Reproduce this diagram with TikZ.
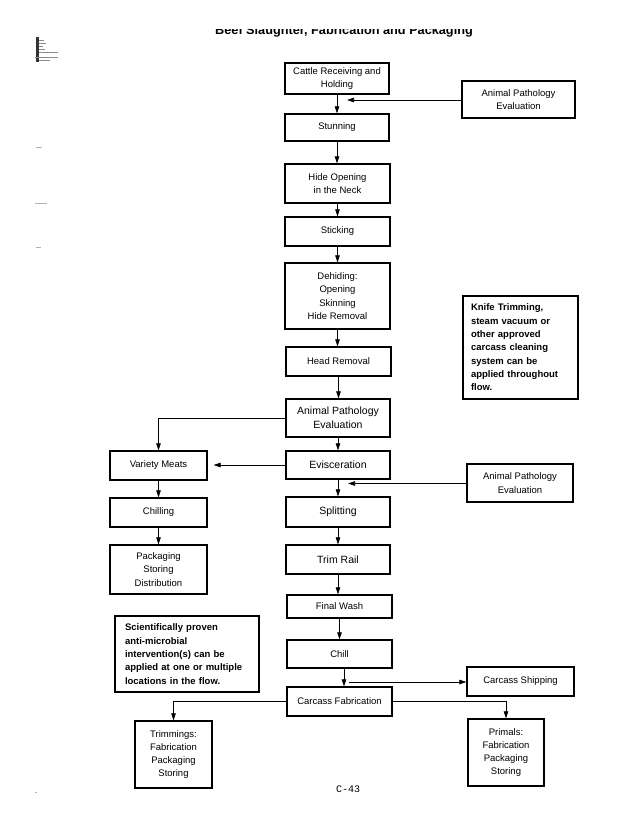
\documentclass[tikz,border=0pt]{standalone}
\usepackage{fontspec}
\setmainfont{Liberation Sans}
\setmonofont{Liberation Mono}
\usetikzlibrary{arrows.meta}
\begin{document}
\begin{tikzpicture}[x=1pt,y=-1pt,
 box/.style={draw, line width=1.3pt, inner sep=0pt, align=center, font=\fontsize{9.5}{13.3}\selectfont},
 note/.style={draw, line width=1.3pt, align=left, inner ysep=0pt, font=\bfseries\fontsize{9.5}{13.3}\selectfont},
 arr/.style={line width=0.7pt, -{Triangle[length=7pt,width=4.5pt]}},
 conn/.style={line width=0.7pt}]
\useasboundingbox (0,0) rectangle (638,826);
% title (cut off at top edge of scan)
\begin{scope}
\clip (0,30) rectangle (638,45);
\node[anchor=base, inner sep=0pt, font=\bfseries\fontsize{12.7}{14}\selectfont] (title) at (344,35) {Beef Slaughter, Fabrication and Packaging};
\end{scope}
% scan marks at left edge
\fill[black!80] (35.5,37) rectangle (38.5,62);
\draw[black!45, line width=0.5pt] (39,40) -- (44,40) (39,43) -- (46,43) (39,46) -- (43,46) (39,49) -- (45,49) (39,52) -- (58,52) (35,57) -- (58,57) (39,60) -- (50,60);
\draw[black!30, line width=0.6pt] (36,147) -- (42,147) (35,203) -- (47,203) (36,247) -- (41,247) (35,792) -- (37,792);
% main column
\node[box, minimum width=104pt, minimum height=31pt] (cattle) at (337,78.5) {Cattle Receiving and\\Holding};
\node[box, minimum width=113pt, minimum height=37pt, line width=1.1pt] (apeTop) at (518.5,99.5) {Animal Pathology\\Evaluation};
\node[box, minimum width=104pt, minimum height=27pt] (stun) at (337,127.5) {Stunning};
\node[box, minimum width=105pt, minimum height=39pt] (hide) at (337.5,183.5) {Hide Opening\\in the Neck};
\node[box, minimum width=105pt, minimum height=29pt] (stick) at (337.5,231.5) {Sticking};
\node[box, minimum width=105pt, minimum height=66pt] (dehide) at (337.5,296) {Dehiding:\\Opening\\Skinning\\Hide Removal};
\node[box, minimum width=105pt, minimum height=29pt] (head) at (338.5,361.5) {Head Removal};
\node[box, minimum width=104pt, minimum height=38pt, font=\fontsize{10.5}{14}\selectfont] (apeMid) at (338,418) {Animal Pathology\\Evaluation};
\node[box, minimum width=104pt, minimum height=28pt, font=\fontsize{10.5}{14}\selectfont] (evis) at (338,465) {Evisceration};
\node[box, minimum width=104pt, minimum height=30pt, font=\fontsize{10.5}{14}\selectfont] (split) at (338,512) {Splitting};
\node[box, minimum width=104pt, minimum height=29pt, font=\fontsize{10.5}{14}\selectfont] (trim) at (338,559.5) {Trim Rail};
\node[box, minimum width=105pt, minimum height=23pt] (wash) at (339.5,606.5) {Final Wash};
\node[box, minimum width=105pt, minimum height=28pt] (chill) at (339.5,654) {Chill};
\node[box, minimum width=105pt, minimum height=29pt] (cf) at (339.5,701.5) {Carcass Fabrication};
% notes
\node[note, text width=99pt, inner xsep=8pt, minimum height=103pt] (knife) at (520.5,347.5) {Knife Trimming,\\steam vacuum or\\other approved\\carcass cleaning\\system can be\\applied throughout\\flow.};
\node[note, text width=124pt, inner xsep=10pt, minimum height=76pt] (sci) at (187,654) {Scientifically proven\\anti-microbial\\intervention(s) can be\\applied at one or multiple\\locations in the flow.};
% left branch
\node[box, minimum width=97pt, minimum height=29pt] (vm) at (158.5,465.5) {Variety Meats};
\node[box, minimum width=97pt, minimum height=29pt] (chilling) at (158.5,512.5) {Chilling};
\node[box, minimum width=97pt, minimum height=49pt] (pack) at (158.5,569.5) {Packaging\\Storing\\Distribution};
% right side
\node[box, minimum width=106pt, minimum height=38pt, line width=1.1pt] (apeBot) at (520,483) {Animal Pathology\\Evaluation};
\node[box, minimum width=107pt, minimum height=29pt] (ship) at (520.5,681.5) {Carcass Shipping};
% bottom
\node[box, minimum width=77pt, minimum height=67pt] (trimmings) at (173.5,754.5) {Trimmings:\\Fabrication\\Packaging\\Storing};
\node[box, minimum width=76pt, minimum height=67pt] (primals) at (506,752.5) {Primals:\\Fabrication\\Packaging\\Storing};
\node[anchor=base, inner sep=0pt, font=\ttfamily\fontsize{10}{12}\selectfont] (page) at (348,792) {C-43};
% connectors main chain
\draw[arr] (cattle.south) -- (cattle.south |- stun.north);
\draw[arr] (stun.south) -- (stun.south |- hide.north);
\draw[arr] (hide.south) -- (hide.south |- stick.north);
\draw[arr] (stick.south) -- (stick.south |- dehide.north);
\draw[arr] (dehide.south) -- (dehide.south |- head.north);
\draw[arr] (head.south) -- (head.south |- apeMid.north);
\draw[arr] (apeMid.south) -- (apeMid.south |- evis.north);
\draw[arr] (evis.south) -- (evis.south |- split.north);
\draw[arr] (split.south) -- (split.south |- trim.north);
\draw[arr] (trim.south) -- (trim.south |- wash.north);
\draw[arr] (wash.south) -- (wash.south |- chill.north);
\coordinate (cx) at (344,0);
\draw[arr] (chill.south -| cx) -- (cf.north -| cx);
% side inputs
\coordinate (t1) at (347,100);
\draw[arr] (apeTop.west |- t1) -- (t1);
\coordinate (t2) at (348,483.5);
\draw[arr] (apeBot.west |- t2) -- (t2);
\coordinate (s1) at (349,682);
\draw[arr] (s1) -- (ship.west |- s1);
% left branch
\draw[arr] (apeMid.west) -| (vm.north);
\draw[arr, shorten >=6pt] (evis.west) -- (vm.east |- evis.west);
\draw[arr] (vm.south) -- (chilling.north);
\draw[arr] (chilling.south) -- (pack.north);
% fabrication split
\draw[arr] (cf.west) -| (trimmings.north);
\draw[arr] (cf.east) -| (primals.north);
\end{tikzpicture}
\end{document}
